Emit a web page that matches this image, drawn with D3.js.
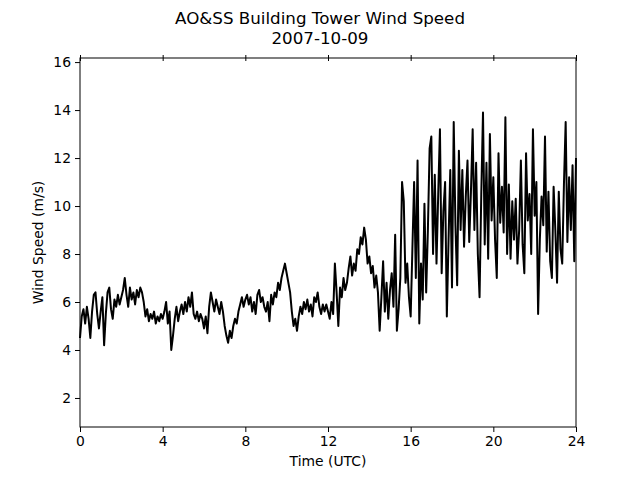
<!DOCTYPE html>
<html>
<head>
<meta charset="utf-8">
<script src="https://cdn.jsdelivr.net/npm/d3@7"></script>
<style>
  body { margin: 0; background: #fff; }
  text { font-family: "DejaVu Sans", sans-serif; fill: #000; }
</style>
</head>
<body>
<div id="chart"></div>
<script>
// wind speed (m/s), one value every 5 minutes, 00:00 to 24:00 UTC
let speeds = [
  4.5, 5.4, 5.7, 5.1, 5.8, 5.3, 4.5, 5.6, 6.3, 6.4, 5.5, 4.9,
  5.6, 6.2, 4.2, 5.5, 6.4, 6.6, 5.7, 5.3, 6.1, 5.8, 6.3, 5.9,
  6.2, 6.5, 7.0, 6.3, 5.8, 6.6, 6.1, 6.4, 5.9, 6.5, 6.2, 6.6,
  6.4, 6.0, 5.4, 5.7, 5.2, 5.5, 5.3, 5.6, 5.1, 5.4, 5.2, 5.5,
  5.3, 5.6, 6.0, 5.1, 5.6, 4.0, 4.6, 5.3, 5.8, 5.2, 5.6, 5.9,
  5.5, 6.0, 5.6, 6.2, 5.8, 6.4, 5.5, 5.3, 5.6, 5.2, 5.5, 5.3,
  4.9, 5.4, 4.7, 5.8, 6.4, 6.0, 5.6, 6.1, 5.8, 5.5, 6.0, 5.6,
  5.0, 4.6, 4.3, 4.8, 4.5, 5.0, 5.3, 5.1, 5.6, 5.9, 6.2, 5.8,
  6.1, 6.3, 5.9, 6.2, 5.6, 6.0, 5.5, 6.3, 6.5, 6.0, 6.2, 5.8,
  5.6, 6.0, 5.2, 6.3, 5.9, 6.4, 6.2, 6.8, 6.5, 7.0, 7.3, 7.6,
  7.2, 6.8, 6.4, 5.6, 5.0, 5.3, 4.8, 5.4, 5.8, 5.5, 6.0, 5.7,
  6.1, 5.6, 5.9, 5.4, 6.2, 6.0, 6.4, 5.8, 5.5, 5.9, 5.6, 5.9,
  5.6, 5.3, 6.0, 5.5, 7.6, 6.4, 5.0, 6.6, 6.2, 7.0, 6.5, 6.8,
  7.4, 7.9, 7.1, 7.6, 7.3, 8.2, 8.0, 8.7, 8.4, 9.1, 8.6, 7.6,
  7.9, 7.2, 7.5, 6.6, 7.1, 6.4, 4.8, 6.2, 7.7, 5.6, 6.8, 5.3,
  6.5, 7.2, 5.8, 8.8, 4.8, 5.7, 7.0, 11.0, 10.2, 6.8, 7.6, 6.2,
  5.4, 8.2, 11.0, 7.0, 11.9, 5.1, 7.6, 6.1, 10.1, 6.4, 9.0, 12.4,
  12.9, 8.0, 11.3, 7.6, 10.5, 13.2, 7.2, 9.8, 11.0, 5.4, 8.6, 11.5,
  6.6, 13.5, 9.2, 6.7, 12.3, 9.0, 11.5, 8.3, 10.4, 11.9, 8.5, 10.6,
  13.2, 9.0, 11.8, 8.0, 6.2, 10.5, 13.9, 8.4, 11.8, 7.8, 13.0, 9.4,
  11.2, 8.6, 7.0, 12.2, 9.3, 10.8, 8.9, 13.7, 8.0, 10.9, 7.8, 10.2,
  8.6, 10.3, 7.6, 9.0, 11.9, 8.4, 7.2, 12.2, 9.4, 10.5, 8.0, 13.2,
  9.6, 11.0, 5.5, 8.6, 10.4, 9.2, 12.9, 8.1, 10.6, 7.7, 7.0, 10.8,
  9.0, 6.8, 10.6, 8.2, 7.6, 10.9, 13.5, 8.5, 11.2, 9.0, 11.7, 7.7,
  12.0
];
let stepHours = 5 / 60;
let xTicks = [0, 4, 8, 12, 16, 20, 24];
let yTicks = [2, 4, 6, 8, 10, 12, 14, 16];
let titleLines = ["AO&SS Building Tower Wind Speed", "2007-10-09"];

let width = 640, height = 480;
let margin = { top: 58, right: 64, bottom: 53, left: 80 };
let innerW = width - margin.left - margin.right;
let innerH = height - margin.top - margin.bottom;

let svg = d3.select('#chart')
  .append('svg')
  .attr('width', width)
  .attr('height', height);

let x = d3.scaleLinear().domain([0, 24]).range([0, innerW]);
let y = d3.scaleLinear().domain([0.79, 16.17]).range([innerH, 0]);

let g = svg.append('g')
  .attr('transform', 'translate(' + margin.left + ',' + margin.top + ')');

// the series
let line = d3.line()
  .x(function(d, i) { return x(i * stepHours); })
  .y(function(d) { return y(d); });

g.append('path')
  .datum(speeds)
  .attr('fill', 'none')
  .attr('stroke', '#000')
  .attr('stroke-width', 2)
  .attr('stroke-linejoin', 'round')
  .attr('d', line);

// axes
let xAxis = g.append('g')
  .attr('transform', 'translate(0,' + innerH + ')')
  .call(d3.axisBottom(x).tickValues(xTicks).tickSize(5).tickPadding(4));

let yAxis = g.append('g')
  .call(d3.axisLeft(y).tickValues(yTicks).tickSize(5).tickPadding(4));

// top ticks straddle the spine
let topAxis = g.append('g')
  .call(d3.axisTop(x).tickValues(xTicks).tickSize(3).tickFormat(''));
topAxis.selectAll('.tick line').attr('y2', 3).attr('y1', -3);
topAxis.select('.domain').remove();

[xAxis, yAxis].forEach(function(a) {
  a.selectAll('text').style('font-size', '13.9px').style('font-family', '"DejaVu Sans", sans-serif');
  a.selectAll('.tick line').attr('stroke', '#000').attr('stroke-width', 1);
});
xAxis.select('.domain').remove();
yAxis.select('.domain').remove();

// frame
g.append('rect')
  .attr('width', innerW)
  .attr('height', innerH)
  .attr('fill', 'none')
  .attr('stroke', '#000')
  .attr('stroke-width', 1);

// labels
svg.append('text')
  .attr('x', margin.left + innerW / 2)
  .attr('y', 466)
  .attr('text-anchor', 'middle')
  .style('font-size', '13.9px')
  .text('Time (UTC)');

svg.append('text')
  .attr('transform', 'translate(43,' + (margin.top + innerH / 2) + ') rotate(-90)')
  .attr('text-anchor', 'middle')
  .style('font-size', '13.9px')
  .text('Wind Speed (m/s)');

svg.selectAll('text.title')
  .data(titleLines)
  .enter().append('text')
  .attr('class', 'title')
  .attr('x', width / 2)
  .attr('y', function(d, i) { return 24 + i * 20; })
  .attr('text-anchor', 'middle')
  .style('font-size', '16.7px')
  .text(function(d) { return d; });
</script>
</body>
</html>
